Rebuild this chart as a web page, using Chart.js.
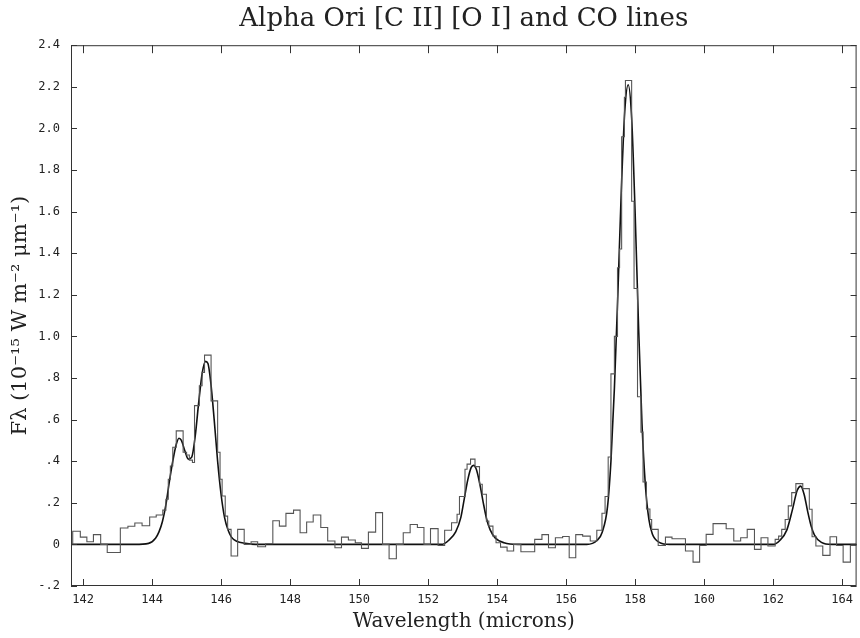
<!DOCTYPE html>
<html><head><meta charset="utf-8">
<script src="https://cdn.jsdelivr.net/npm/chart.js@4.4.1/dist/chart.umd.min.js"></script>
<style>html,body{margin:0;padding:0;background:#fff;}#wrap{width:860px;height:638px;}</style>
</head><body><div id="wrap"><canvas id="c" width="860" height="638"></canvas></div>
<script>
// Observed spectrum: left edge of each bin (microns) and flux in that bin
const histEdges = [141.65,141.70,141.92,142.11,142.30,142.51,142.70,143.08,143.30,143.50,143.71,143.93,144.12,144.31,144.40,144.47,144.53,144.60,144.70,144.90,145.00,145.08,145.17,145.23,145.37,145.45,145.52,145.71,145.90,145.97,146.03,146.12,146.19,146.29,146.48,146.67,146.87,147.06,147.29,147.50,147.69,147.88,148.10,148.29,148.48,148.67,148.89,149.09,149.30,149.49,149.69,149.89,150.07,150.27,150.48,150.68,150.87,151.08,151.28,151.48,151.69,151.88,152.07,152.29,152.48,152.68,152.84,152.91,153.07,153.13,153.23,153.36,153.49,153.57,153.69,153.76,153.88,153.97,154.10,154.29,154.48,154.69,155.09,155.30,155.49,155.69,155.90,156.09,156.28,156.48,156.70,156.89,157.04,157.13,157.22,157.30,157.40,157.49,157.55,157.61,157.69,157.72,157.90,157.97,158.07,158.17,158.23,158.33,158.43,158.48,158.67,158.88,159.07,159.46,159.68,159.87,160.06,160.26,160.64,160.86,161.06,161.25,161.46,161.65,161.85,162.06,162.16,162.25,162.35,162.44,162.54,162.66,162.86,163.05,163.13,163.24,163.44,163.65,163.84,164.03,164.24];
const histFlux = [0.0,0.063,0.035,0.013,0.047,0.0,-0.039,0.079,0.087,0.103,0.090,0.132,0.141,0.165,0.217,0.313,0.377,0.467,0.546,0.443,0.430,0.405,0.394,0.667,0.763,0.827,0.910,0.690,0.443,0.313,0.233,0.136,0.072,-0.056,0.072,0.0,0.013,-0.011,0.003,0.114,0.088,0.149,0.165,0.056,0.108,0.141,0.081,0.016,-0.016,0.035,0.021,0.008,-0.019,0.059,0.153,0.0,-0.069,0.0,0.056,0.096,0.081,0.0,0.076,-0.005,0.068,0.104,0.145,0.230,0.361,0.386,0.410,0.374,0.289,0.241,0.112,0.088,0.040,0.008,-0.013,-0.032,0.0,-0.035,0.024,0.047,-0.016,0.032,0.038,-0.064,0.047,0.040,0.016,0.068,0.150,0.230,0.420,0.820,1.000,1.330,1.420,1.960,2.150,2.230,1.650,1.230,0.710,0.540,0.300,0.170,0.120,0.072,-0.005,0.035,0.027,-0.032,-0.085,-0.005,0.048,0.100,0.075,0.016,0.032,0.072,-0.024,0.032,-0.008,0.024,0.040,0.072,0.120,0.185,0.249,0.292,0.268,0.169,0.037,-0.008,-0.053,0.037,-0.005,-0.085,-0.005];
const histEnd = 164.42;

// Fitted line profile
const fitWave = [141.65,143.5,143.9,144.1,144.2,144.3,144.4,144.5,144.6,144.7,144.78,144.85,144.95,145.05,145.15,145.25,145.35,145.45,145.55,145.62,145.7,145.8,145.9,146.0,146.1,146.2,146.3,146.45,146.7,147.0,152.4,152.6,152.8,152.95,153.05,153.15,153.25,153.32,153.4,153.5,153.6,153.7,153.8,153.95,154.2,154.6,156.6,156.9,157.05,157.2,157.3,157.4,157.5,157.6,157.7,157.8,157.9,158.0,158.1,158.2,158.3,158.4,158.5,158.7,159.0,162.0,162.2,162.4,162.55,162.7,162.8,162.9,163.0,163.1,163.2,163.4,163.7,164.42];
const fitFlux = [0,0,0.005,0.03,0.06,0.11,0.19,0.30,0.40,0.48,0.51,0.50,0.45,0.41,0.42,0.52,0.68,0.82,0.88,0.87,0.78,0.60,0.40,0.24,0.13,0.07,0.035,0.015,0.005,0,0,0.02,0.06,0.13,0.22,0.31,0.37,0.38,0.36,0.29,0.20,0.12,0.07,0.03,0.008,0,0,0.02,0.06,0.18,0.40,0.75,1.20,1.70,2.08,2.21,2.05,1.60,1.05,0.58,0.28,0.12,0.05,0.01,0,0,0.02,0.07,0.16,0.26,0.28,0.24,0.16,0.09,0.045,0.01,0,0];

const xTickValues = [142,144,146,148,150,152,154,156,158,160,162,164];
const xTickLabels = ['142','144','146','148','150','152','154','156','158','160','162','164'];
const yTickValues = [-0.2,0,0.2,0.4,0.6,0.8,1.0,1.2,1.4,1.6,1.8,2.0,2.2,2.4];
const yTickLabels = ['-.2','0','.2','.4','.6','.8','1.0','1.2','1.4','1.6','1.8','2.0','2.2','2.4'];

const histData = histEdges.map((e, i) => ({x: e, y: histFlux[i]}));
histData.push({x: histEnd, y: histFlux[histFlux.length - 1]});
const fitData = fitWave.map((w, i) => ({x: w, y: fitFlux[i]}));

const frameTicks = {
  id: 'frameTicks',
  afterDatasetsDraw(chart) {
    const {ctx, chartArea: a, scales: {x, y}} = chart;
    ctx.save();
    ctx.strokeStyle = '#333';
    ctx.lineWidth = 1;
    ctx.strokeRect(a.left + 0.5, a.top + 0.5, a.right - a.left - 1, a.bottom - a.top - 1);
    ctx.beginPath();
    xTickValues.forEach(v => {
      const px = Math.round(x.getPixelForValue(v)) + 0.5;
      ctx.moveTo(px, a.bottom); ctx.lineTo(px, a.bottom - 7);
      ctx.moveTo(px, a.top); ctx.lineTo(px, a.top + 8);
    });
    yTickValues.forEach(v => {
      const py = Math.round(y.getPixelForValue(v)) + 0.5;
      ctx.moveTo(a.left, py); ctx.lineTo(a.left + 6, py);
      ctx.moveTo(a.right, py); ctx.lineTo(a.right - 6, py);
    });
    ctx.stroke();
    ctx.restore();
  }
};

new Chart(document.getElementById('c'), {
  type: 'line',
  data: {
    datasets: [
      {label: 'Observed', data: histData, stepped: 'before', borderColor: '#555', borderWidth: 1.1, pointRadius: 0, fill: false},
      {label: 'Fit', data: fitData, borderColor: '#111', borderWidth: 1.6, pointRadius: 0, fill: false, cubicInterpolationMode: 'monotone'}
    ]
  },
  options: {
    responsive: false,
    devicePixelRatio: 1,
    animation: false,
    layout: {padding: {left: 0, right: 1, top: 0, bottom: 0}},
    plugins: {
      legend: {display: false},
      tooltip: {enabled: false},
      title: {
        display: true, fullSize: false,
        text: 'Alpha Ori [C II] [O I] and CO lines',
        font: {family: 'DejaVu Serif', size: 26, weight: 'normal'},
        color: '#222',
        padding: {top: 4, bottom: 10}
      }
    },
    scales: {
      x: {
        type: 'linear', min: 141.65, max: 164.42,
        grid: {display: false, drawTicks: false},
        border: {display: false},
        afterBuildTicks: s => { s.ticks = xTickValues.map(v => ({value: v})); },
        afterFit: s => { s.height = 52; },
        ticks: {
          padding: 7, color: '#222', maxRotation: 0, autoSkip: false,
          font: {family: 'DejaVu Sans Mono', size: 12},
          callback: (v, i) => xTickLabels[i]
        },
        title: {
          display: true, text: 'Wavelength (microns)', color: '#222',
          font: {family: 'DejaVu Serif', size: 20, weight: 'normal'},
          padding: {top: 0, bottom: 4}
        }
      },
      y: {
        type: 'linear', min: -0.2, max: 2.4,
        grid: {display: false, drawTicks: false},
        border: {display: false},
        afterBuildTicks: s => { s.ticks = yTickValues.map(v => ({value: v})); },
        afterFit: s => { s.width = 71; },
        ticks: {
          padding: 11, color: '#222', autoSkip: false,
          font: {family: 'DejaVu Sans Mono', size: 12},
          callback: (v, i) => yTickLabels[i]
        },
        title: {
          display: true, text: 'F\u03BB (10\u207B\u00B9\u2075 W m\u207B\u00B2 \u03BCm\u207B\u00B9)', color: '#222',
          font: {family: 'DejaVu Serif', size: 21, weight: 'normal'},
          padding: {top: 8, bottom: 0}
        }
      }
    }
  },
  plugins: [frameTicks]
});
</script></body></html>
